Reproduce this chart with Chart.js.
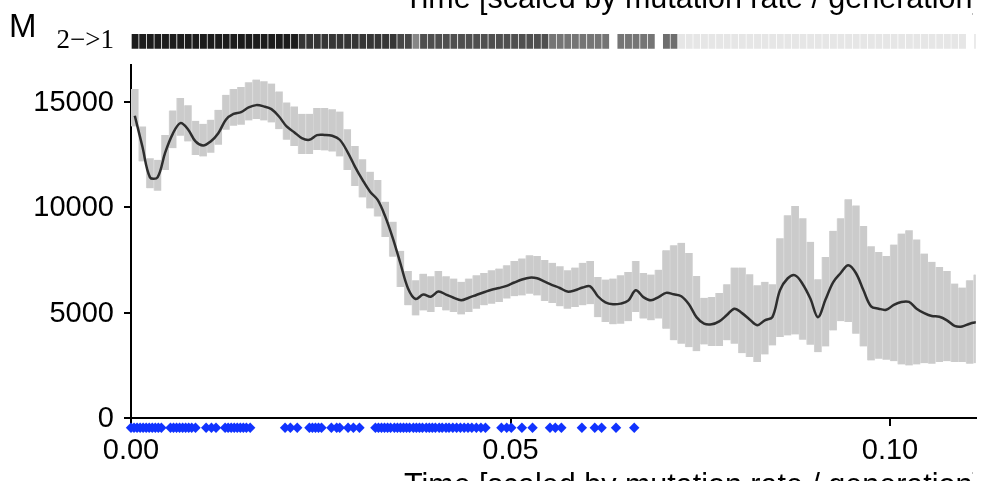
<!DOCTYPE html>
<html>
<head>
<meta charset="utf-8">
<title>M 2->1</title>
<script src="https://cdn.jsdelivr.net/npm/chart.js"></script>
<style>
  html, body { margin: 0; padding: 0; background: #fff; overflow: hidden; }
  canvas { display: block; }
</style>
</head>
<body>
<canvas id="myChart" width="981" height="481"></canvas>
<script>
// Bin midpoints (time scaled by mutation rate / generation), 0.001 wide
const binMid = [
  0.0005, 0.0015, 0.0025, 0.0035, 0.0045, 0.0055, 0.0065, 0.0075, 0.0085, 0.0095,
  0.0105, 0.0115, 0.0125, 0.0135, 0.0145, 0.0155, 0.0165, 0.0175, 0.0185, 0.0195,
  0.0205, 0.0215, 0.0225, 0.0235, 0.0245, 0.0255, 0.0265, 0.0275, 0.0285, 0.0295,
  0.0305, 0.0315, 0.0325, 0.0335, 0.0345, 0.0355, 0.0365, 0.0375, 0.0385, 0.0395,
  0.0405, 0.0415, 0.0425, 0.0435, 0.0445, 0.0455, 0.0465, 0.0475, 0.0485, 0.0495,
  0.0505, 0.0515, 0.0525, 0.0535, 0.0545, 0.0555, 0.0565, 0.0575, 0.0585, 0.0595,
  0.0605, 0.0615, 0.0625, 0.0635, 0.0645, 0.0655, 0.0665, 0.0675, 0.0685, 0.0695,
  0.0705, 0.0715, 0.0725, 0.0735, 0.0745, 0.0755, 0.0765, 0.0775, 0.0785, 0.0795,
  0.0805, 0.0815, 0.0825, 0.0835, 0.0845, 0.0855, 0.0865, 0.0875, 0.0885, 0.0895,
  0.0905, 0.0915, 0.0925, 0.0935, 0.0945, 0.0955, 0.0965, 0.0975, 0.0985, 0.0995,
  0.1005, 0.1015, 0.1025, 0.1035, 0.1045, 0.1055, 0.1065, 0.1075, 0.1085, 0.1095,
  0.1105, 0.1115
];

// Lower / upper band of M per bin
const ciLow = [
  13820, 12160, 10890, 10780, 11760, 12790, 13380, 13110, 12470, 12400,
  12580, 12950, 13660, 13850, 13900, 14100, 14170, 14100, 14010, 13690,
  13190, 12900, 12520, 12510, 12710, 12680, 12630, 12400, 11760, 11000,
  10460, 9940, 9550, 8590, 7650, 6220, 5350, 4870, 5110, 5030,
  5270, 5110, 5030, 4920, 5030, 5190, 5350, 5430, 5510, 5670,
  5780, 5820, 5900, 5820, 5550, 5460, 5300, 5190, 5270, 5350,
  5400, 4790, 4560, 4450, 4480, 4600, 5030, 4720, 4640, 4720,
  4240, 3690, 3530, 3370, 3180, 3500, 3420, 3420, 3690, 3530,
  3080, 2900, 2660, 3020, 3450, 3850, 3920, 3970, 3720, 3480,
  3130, 3400, 4160, 4600, 4560, 4000, 3400, 2740, 2820, 2770,
  2700, 2550, 2500, 2550, 2610, 2580, 2660, 2700, 2660, 2660,
  2580, 2610
];
const ciHigh = [
  15590, 13820, 12320, 12240, 13420, 14580, 15170, 14820, 14090, 13950,
  14140, 14610, 15320, 15590, 15690, 15910, 16040, 15960, 15850, 15480,
  14960, 14770, 14420, 14420, 14690, 14690, 14640, 14530, 13690, 12900,
  12270, 11680, 11290, 10260, 9310, 7930, 6980, 6540, 6850, 6730,
  6980, 6730, 6620, 6460, 6620, 6770, 6880, 7010, 7090, 7250,
  7450, 7570, 7720, 7680, 7490, 7360, 7200, 7010, 7140, 7360,
  7450, 6690, 6570, 6620, 6770, 6930, 7450, 6880, 6810, 7040,
  7960, 8200, 8310, 7830, 6740, 5710, 5740, 5930, 6350, 7140,
  7140, 6820, 6300, 6460, 6350, 8520, 9620, 10050, 9470, 8360,
  6580, 7640, 8880, 9470, 10370, 10080, 9100, 8150, 7880, 7680,
  8230, 8750, 8910, 8470, 7800, 7410, 7170, 6980, 6380, 6190,
  6540, 6810
];
// Mean M per bin
const meanM = [
  14330, 12870, 11410, 11410, 12580, 13470, 13980, 13690, 13110, 12920,
  13110, 13500, 14140, 14410, 14500, 14720, 14830, 14770, 14640, 14290,
  13820, 13550, 13270, 13190, 13410, 13420, 13380, 13190, 12630, 11920,
  11290, 10730, 10340, 9550, 8520, 7330, 6150, 5650, 5860, 5760,
  6000, 5860, 5710, 5590, 5710, 5840, 5970, 6090, 6170, 6270,
  6430, 6570, 6660, 6630, 6470, 6310, 6170, 6000, 6060, 6190,
  6250, 5780, 5490, 5400, 5430, 5570, 6060, 5740, 5590, 5740,
  5940, 5870, 5780, 5400, 4790, 4480, 4450, 4590, 4890, 5190,
  4980, 4680, 4410, 4640, 4790, 6060, 6620, 6770, 6350, 5670,
  4790, 5620, 6440, 6880, 7250, 6880, 6060, 5300, 5190, 5140,
  5370, 5510, 5510, 5190, 4980, 4840, 4810, 4640, 4380, 4350,
  4480, 4560
];

// Support for direction 2->1 per bin (null = no estimate)
const dir21 = [
  0.89, 0.89, 0.89, 0.89, 0.89, 0.89, 0.89, 0.89, 0.89, 0.89,
  0.89, 0.89, 0.89, 0.89, 0.89, 0.89, 0.89, 0.89, 0.89, 0.89,
  0.89, 0.89, 0.79, 0.79, 0.79, 0.79, 0.79, 0.79, 0.79, 0.79,
  0.79, 0.79, 0.79, 0.79, 0.79, 0.72, 0.72, 0.47, 0.69, 0.69,
  0.69, 0.69, 0.69, 0.69, 0.69, 0.69, 0.69, 0.69, 0.69, 0.69,
  0.69, 0.69, 0.69, 0.69, 0.69, 0.54, 0.54, 0.54, 0.54, 0.54,
  0.54, 0.54, 0.54, null, 0.54, 0.54, 0.54, 0.54, 0.54, null,
  0.57, 0.57, 0.10, 0.10, 0.10, 0.10, 0.10, 0.10, 0.10, 0.10,
  0.10, 0.10, 0.10, 0.10, 0.10, 0.10, 0.10, 0.10, 0.10, 0.10,
  0.10, 0.10, 0.10, 0.10, 0.10, 0.10, 0.10, 0.10, 0.10, 0.10,
  0.10, 0.10, 0.10, 0.10, 0.10, 0.10, 0.10, 0.10, 0.10, 0.10,
  null, 0.10
];

// Event times (blue diamonds under the axis)
const eventTimes = [
  0.0000, 0.0004, 0.0008, 0.0012, 0.0016, 0.0020, 0.0024, 0.0028, 0.0032, 0.0036, 0.0040,
  0.0052, 0.0056, 0.0060, 0.0064, 0.0068, 0.0072, 0.0076, 0.0080, 0.0085, 0.0099, 0.0106, 0.0112,
  0.0124, 0.0128, 0.0132, 0.0136, 0.0140, 0.0144, 0.0148, 0.0152, 0.0157,
  0.0203, 0.0210, 0.0219,
  0.0235, 0.0239, 0.0243, 0.0247, 0.0251, 0.0264, 0.0271, 0.0275,
  0.0286, 0.0293, 0.0301,
  0.0322, 0.0326, 0.0330, 0.0334, 0.0338, 0.0342, 0.0347, 0.0351, 0.0355, 0.0359,
  0.0363, 0.0367, 0.0372, 0.0376, 0.0380, 0.0384, 0.0389, 0.0393, 0.0397, 0.0401,
  0.0406, 0.0410, 0.0415, 0.0419, 0.0424, 0.0429, 0.0434, 0.0439, 0.0444, 0.0449,
  0.0455, 0.0461, 0.0467,
  0.0488, 0.0495, 0.0501, 0.0515, 0.0529,
  0.0552, 0.0559, 0.0567,
  0.0594, 0.0611, 0.0620, 0.0639, 0.0663
];

const xTicks = [0, 0.05, 0.1];
const yTicks = [0, 5000, 10000, 15000];

const AXIS_TITLE = "Time [scaled by mutation rate / generation]";
const DIR_LABEL = "2\u2212>1";
const SANS = "'Liberation Sans', Arial, Helvetica, sans-serif";

// Strip band inside its own small stacked axis (0..1)
const STRIP_BAND = [0.36, 0.69];
// Event markers sit just under the zero line
const EVENT_Y = -450;

function shade(p) {
  const g = Math.round(255 * (1 - p));
  return `rgb(${g},${g},${g})`;
}

// Panel letter and the two axis titles (cut by the panel edges)
const panelText = {
  id: "panelText",
  afterDraw(chart) {
    const c = chart.ctx;
    c.save();
    c.fillStyle = "#000";
    c.textBaseline = "alphabetic";
    c.textAlign = "left";
    c.font = "33px " + SANS;
    c.fillText("M", 9, 37);
    c.beginPath();
    c.rect(0, 0, 973, chart.height);
    c.clip();
    c.font = "30.5px " + SANS;
    c.fillText(AXIS_TITLE, 404, 8);
    c.fillText(AXIS_TITLE, 404, 495);
    c.restore();
  },
};

function noPad(s) {
  s.paddingTop = 0;
  s.paddingBottom = 0;
}

Chart.defaults.font.family = SANS;
Chart.defaults.color = "#000";

const ctx = document.getElementById("myChart").getContext("2d");
new Chart(ctx, {
  type: "bar",
  data: {
    datasets: [
      {
        type: "scatter",
        data: eventTimes.map((t) => ({ x: t, y: EVENT_Y })),
        pointStyle: "rectRot",
        pointRadius: 5.2,
        pointBackgroundColor: "#1133ff",
        pointBorderWidth: 0,
        clip: false,
        yAxisID: "y",
        order: 0,
      },
      {
        type: "line",
        data: binMid.map((x, i) => ({ x: x, y: meanM[i] })),
        borderColor: "#2e2e2e",
        borderWidth: 2.5,
        pointRadius: 0,
        tension: 0.35,
        fill: false,
        yAxisID: "y",
        order: 1,
      },
      {
        type: "bar",
        data: binMid.map((x, i) => ({ x: x, y: [ciLow[i], ciHigh[i]] })),
        backgroundColor: "#cbcbcb",
        borderColor: "#d6d6d6",
        borderWidth: { left: 1, right: 0, top: 0, bottom: 0 },
        borderSkipped: false,
        barPercentage: 1,
        categoryPercentage: 1,
        grouped: false,
        yAxisID: "y",
        order: 2,
      },
      {
        type: "bar",
        data: binMid.map((x, i) => ({ x: x, y: dir21[i] == null ? null : STRIP_BAND })),
        backgroundColor: dir21.map((p) => (p == null ? "rgba(0,0,0,0)" : shade(p))),
        borderColor: "rgba(255,255,255,0.15)",
        borderWidth: { left: 1, right: 0, top: 0, bottom: 0 },
        borderSkipped: false,
        barPercentage: 1,
        categoryPercentage: 1,
        grouped: false,
        yAxisID: "ys",
        order: 3,
      },
    ],
  },
  options: {
    responsive: false,
    animation: false,
    devicePixelRatio: 1,
    layout: { padding: { top: 20, left: 0, right: 0, bottom: 55 } },
    plugins: {
      legend: { display: false },
      tooltip: { enabled: false },
    },
    scales: {
      x: {
        type: "linear",
        position: { y: 0 },
        min: 0,
        max: 0.1113,
        offset: false,
        afterBuildTicks: (s) => {
          s.ticks = xTicks.map((v) => ({ value: v }));
        },
        border: { display: true, color: "#000", width: 2 },
        grid: { drawOnChartArea: false, offset: false, color: "#000", lineWidth: 2, tickLength: 7 },
        ticks: {
          callback: (v) => Number(v).toFixed(2),
          font: { size: 29 },
          padding: 8,
          maxRotation: 0,
          autoSkip: false,
        },
      },
      ys: {
        type: "linear",
        position: "left",
        stack: "left",
        stackWeight: 45,
        weight: 1,
        min: 0,
        max: 1,
        afterBuildTicks: (s) => {
          s.ticks = [{ value: (STRIP_BAND[0] + STRIP_BAND[1]) / 2 }];
        },
        afterFit: (s) => {
          s.width = 131;
          noPad(s);
        },
        border: { display: false },
        grid: { display: false, tickLength: 7 },
        ticks: {
          callback: () => DIR_LABEL,
          font: { family: "'Liberation Serif', 'Times New Roman', serif", size: 27 },
          padding: 10,
        },
      },
      y: {
        type: "linear",
        position: "left",
        stack: "left",
        stackWeight: 361,
        weight: 0,
        min: -365,
        max: 16730,
        afterBuildTicks: (s) => {
          s.ticks = yTicks.map((v) => ({ value: v }));
        },
        afterFit: (s) => {
          s.width = 131;
          noPad(s);
        },
        border: { display: true, color: "#000", width: 2 },
        grid: { drawOnChartArea: false, color: "#000", lineWidth: 2, tickLength: 7 },
        ticks: {
          callback: (v) => String(v),
          font: { size: 29 },
          padding: 10,
          labelOffset: 1,
        },
      },
    },
  },
  plugins: [panelText],
});
</script>
</body>
</html>
